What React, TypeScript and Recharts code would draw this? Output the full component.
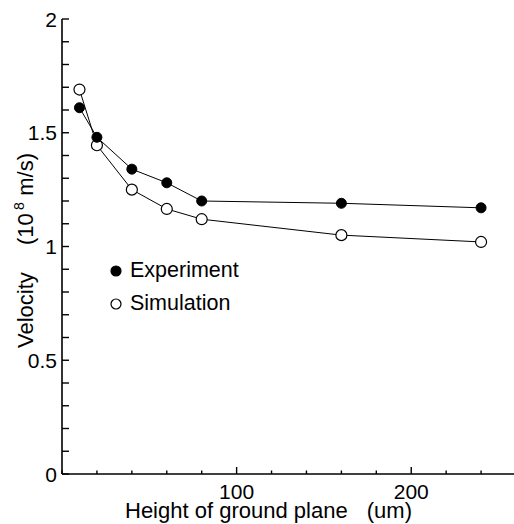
import React from 'react';
import { LineChart, Line, XAxis, YAxis, Legend } from 'recharts';

const FONT = "'Liberation Sans', Arial, Helvetica, sans-serif";

// ground plane height (um)
const heights = [10, 20, 40, 60, 80, 160, 240];
// velocity (10^8 m/s)
const experiment = [1.61, 1.48, 1.34, 1.28, 1.2, 1.19, 1.17];
const simulation = [1.69, 1.445, 1.25, 1.165, 1.12, 1.05, 1.02];

const xTicks = [0, 20, 40, 60, 80, 100, 120, 140, 160, 180, 200, 220, 240, 260];
const xLabels = [100, 200];
const yTicks = [0, 0.1, 0.2, 0.3, 0.4, 0.5, 0.6, 0.7, 0.8, 0.9, 1, 1.1, 1.2, 1.3, 1.4, 1.5, 1.6, 1.7, 1.8, 1.9, 2];
const yLabels = [0, 0.5, 1, 1.5, 2];

const data = heights.map((h, i) => ({ h, experiment: experiment[i], simulation: simulation[i] }));

const legendOrder = ['Experiment', 'Simulation'];

const BottomTick = (props: any) => {
  const { x, y, payload } = props;
  const major = xLabels.includes(payload.value);
  return (
    <g>
      <line x1={x} y1={y} x2={x} y2={y - (major ? 7 : 3.5)} stroke="#000" strokeWidth={1.4} />
      {major && (
        <text x={x} y={y + 25} textAnchor="middle" fontSize={21} fontFamily={FONT} fill="#000">
          {payload.value}
        </text>
      )}
    </g>
  );
};

const TopTick = (props: any) => {
  const { x, y, payload } = props;
  const major = xLabels.includes(payload.value);
  return <line x1={x} y1={y} x2={x} y2={y + (major ? 7 : 4.5)} stroke="#000" strokeWidth={1.4} />;
};

const LeftTick = (props: any) => {
  const { x, y, payload } = props;
  const major = yLabels.includes(payload.value);
  return (
    <g>
      <line x1={x} y1={y} x2={x + 7} y2={y} stroke="#000" strokeWidth={1.4} />
      {major && (
        <text x={x - 5} y={y + 7.5} textAnchor="end" fontSize={21} fontFamily={FONT} fill="#000">
          {payload.value}
        </text>
      )}
    </g>
  );
};

const RightTick = (props: any) => {
  const { x, y, payload } = props;
  const major = payload.value === 1;
  return <line x1={x} y1={y} x2={x - (major ? 9 : 6)} y2={y} stroke="#000" strokeWidth={1.4} />;
};

const FilledDot = (props: any) => {
  const { cx, cy, index } = props;
  return <circle key={index} cx={cx} cy={cy} r={5} fill="#000" stroke="#000" strokeWidth={1} />;
};

const OpenDot = (props: any) => {
  const { cx, cy, index } = props;
  return <circle key={index} cx={cx} cy={cy} r={5.5} fill="#fff" stroke="#000" strokeWidth={1.2} />;
};

// rotated label, pieces placed along the rotated baseline (reads upward)
const YLabel = (props: any) => {
  const { viewBox } = props;
  const cx = 33;
  const cy = viewBox.y + viewBox.height - 126;
  const common = { fontFamily: FONT, fill: '#000' };
  return (
    <g transform={`rotate(-90, ${cx}, ${cy})`}>
      <text x={cx} y={cy} fontSize={22} {...common}>Velocity</text>
      <text x={cx + 103} y={cy} fontSize={22} {...common}>(10</text>
      <text x={cx + 138} y={cy - 9} fontSize={14} {...common}>8</text>
      <text x={cx + 195} y={cy} fontSize={22} textAnchor="end" {...common}>m/s)</text>
    </g>
  );
};

const XLabel = (props: any) => {
  const { viewBox } = props;
  const common = { fontFamily: FONT, fill: '#000', fontSize: 22 };
  return (
    <g>
      <text x={viewBox.x + 63} y={viewBox.y + 44} {...common}>Height of ground plane</text>
      <text x={viewBox.x + 350} y={viewBox.y + 44} textAnchor="end" {...common}>(um)</text>
    </g>
  );
};

const renderLegend = (props: any) => {
  const items = (props.payload || [])
    .filter((p: any) => legendOrder.includes(p.value))
    .sort((a: any, b: any) => legendOrder.indexOf(a.value) - legendOrder.indexOf(b.value));
  return (
    <div style={{ fontFamily: FONT, fontSize: 21.5, color: '#000' }}>
      {items.map((p: any) => {
        const filled = p.value === 'Experiment';
        return (
          <div key={p.value} style={{ display: 'flex', alignItems: 'center', height: 33 }}>
            <svg width={16} height={16} style={{ display: 'block' }}>
              <circle cx={8} cy={8} r={5} fill={filled ? '#000' : '#fff'} stroke="#000" strokeWidth={1.2} />
            </svg>
            <span style={{ marginLeft: 6, lineHeight: '33px' }}>{p.value}</span>
          </div>
        );
      })}
    </div>
  );
};

export default function App() {
  return (
    <div style={{ position: 'absolute', left: 0, top: 0, width: 514, height: 524, overflow: 'hidden', background: '#fff' }}>
      <LineChart width={520} height={524} data={data} margin={{ top: 19, right: 4, bottom: 0, left: 0 }}>
        <XAxis
          xAxisId="bottom"
          dataKey="h"
          type="number"
          domain={[0, 260]}
          ticks={xTicks}
          interval={0}
          allowDataOverflow
          height={50}
          tickSize={0}
          tickMargin={0}
          tickLine={false}
          axisLine={{ stroke: '#000', strokeWidth: 1.6 }}
          tick={<BottomTick />}
          label={<XLabel />}
        />
        <XAxis
          xAxisId="top"
          orientation="top"
          dataKey="h"
          type="number"
          domain={[0, 260]}
          ticks={xTicks}
          interval={0}
          allowDataOverflow
          height={0}
          tickSize={0}
          tickMargin={0}
          tickLine={false}
          axisLine={{ stroke: '#000', strokeWidth: 1.6 }}
          tick={<TopTick />}
        />
        <YAxis
          yAxisId="left"
          type="number"
          domain={[0, 2]}
          ticks={yTicks}
          interval={0}
          allowDataOverflow
          width={62}
          tickSize={0}
          tickMargin={0}
          tickLine={false}
          axisLine={{ stroke: '#000', strokeWidth: 1.6 }}
          tick={<LeftTick />}
          label={<YLabel />}
        />
        <YAxis
          yAxisId="right"
          orientation="right"
          type="number"
          domain={[0, 2]}
          ticks={yTicks}
          interval={0}
          allowDataOverflow
          width={0}
          tickSize={0}
          tickMargin={0}
          tickLine={false}
          axisLine={{ stroke: '#000', strokeWidth: 1.6 }}
          tick={<RightTick />}
        />
        <Legend
          layout="vertical"
          verticalAlign="middle"
          align="center"
          content={renderLegend}
          wrapperStyle={{ left: 108, top: 254, width: 'auto', height: 'auto' }}
        />
        <Line
          xAxisId="top"
          yAxisId="right"
          dataKey="experiment"
          stroke="none"
          dot={false}
          activeDot={false}
          legendType="none"
          isAnimationActive={false}
        />
        <Line
          name="Simulation"
          xAxisId="bottom"
          yAxisId="left"
          type="linear"
          dataKey="simulation"
          stroke="#000"
          strokeWidth={1}
          dot={<OpenDot />}
          activeDot={false}
          isAnimationActive={false}
        />
        <Line
          name="Experiment"
          xAxisId="bottom"
          yAxisId="left"
          type="linear"
          dataKey="experiment"
          stroke="#000"
          strokeWidth={1}
          dot={<FilledDot />}
          activeDot={false}
          isAnimationActive={false}
        />
      </LineChart>
    </div>
  );
}
